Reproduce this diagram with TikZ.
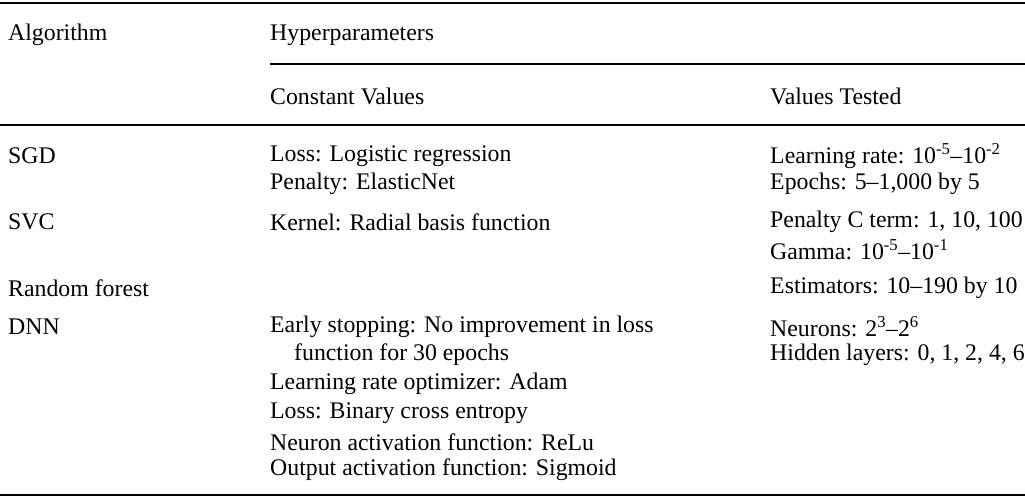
\documentclass[tikz,border=0pt]{standalone}
\usepackage{fontspec}
\setmainfont{Liberation Serif}
\tikzset{
  cell/.style = {anchor=west, inner sep=0pt, font=\fontsize{23.8}{28}\selectfont},
  rule/.style = {line width=2pt},
  thinrule/.style = {line width=1.6pt}
}
\begin{document}
\begin{tikzpicture}[x=1pt,y=-1pt]
  \useasboundingbox (0,0) rectangle (1025,497);
  % rules
  \draw[rule] (0,3) -- (1025,3);
  \draw[thinrule] (270,64) -- (1025,64);
  \draw[rule] (0,125) -- (1025,125);
  \draw[rule] (0,495) -- (1025,495);
  % header
  \node[cell] (alg) at (8,35) {Algorithm};
  \node[cell] (hyp) at (270,35) {Hyperparameters};
  \node[cell] (const) at (270,96) {Constant Values};
  \node[cell] (tested) at (770,96) {Values Tested};
  % SGD
  \node[cell] (sgd) at (8,156) {SGD};
  \node[cell] (sgdA) at (270,156) {Loss: Logistic regression};
  \node[cell] (sgdB) at (270,184) {Penalty: ElasticNet};
  \node[cell] (sgdC) at (770,156) {Learning rate: 10\textsuperscript{-5}–10\textsuperscript{-2}};
  \node[cell] (sgdD) at (770,184) {Epochs: 5–1,000 by 5};
  % SVC
  \node[cell] (svc) at (8,222) {SVC};
  \node[cell] (svcA) at (270,222) {Kernel: Radial basis function};
  \node[cell] (svcB) at (770,222) {Penalty C term: 1, 10, 100};
  \node[cell] (svcC) at (770,250) {Gamma: 10\textsuperscript{-5}–10\textsuperscript{-1}};
  % Random forest
  \node[cell] (rf) at (8,288) {Random forest};
  \node[cell] (rfA) at (770,288) {Estimators: 10–190 by 10};
  % DNN
  \node[cell] (dnn) at (8,327) {DNN};
  \node[cell] (dnnA) at (270,327) {Early stopping: No improvement in loss};
  \node[cell] (dnnB) at (294,355) {function for 30 epochs};
  \node[cell] (dnnC) at (270,384) {Learning rate optimizer: Adam};
  \node[cell] (dnnD) at (270,413) {Loss: Binary cross entropy};
  \node[cell] (dnnE) at (270,442) {Neuron activation function: ReLu};
  \node[cell] (dnnF) at (270,470) {Output activation function: Sigmoid};
  \node[cell] (dnnG) at (770,327) {Neurons: 2\textsuperscript{3}–2\textsuperscript{6}};
  \node[cell] (dnnH) at (770,355) {Hidden layers: 0, 1, 2, 4, 6};
\end{tikzpicture}
\end{document}
